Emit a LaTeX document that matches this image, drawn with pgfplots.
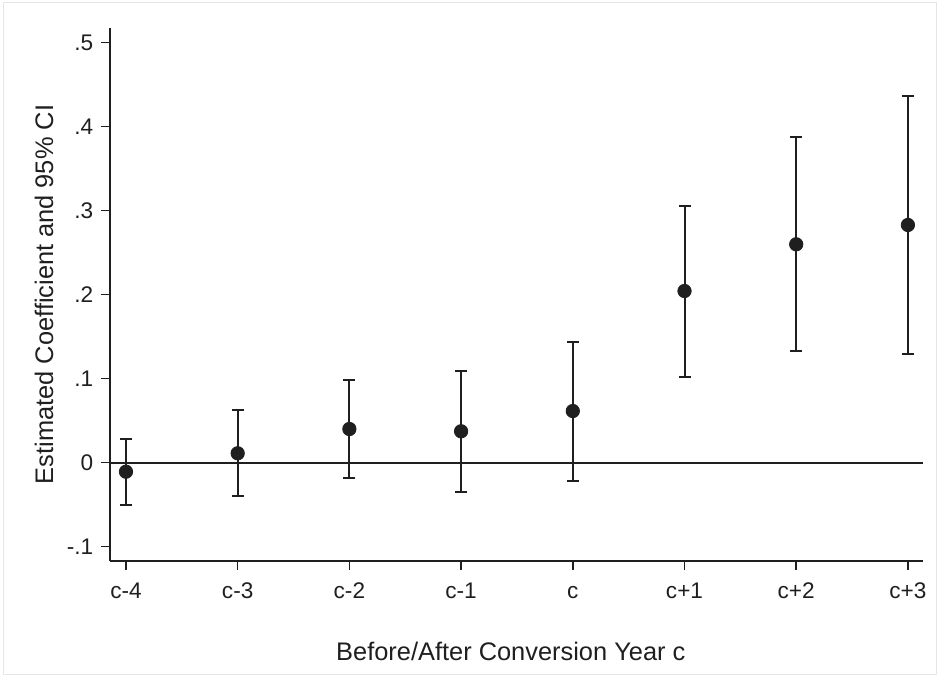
\documentclass[border=0pt]{standalone}
\usepackage{pgfplots}
\pgfplotsset{compat=1.18}
\usepackage{fontspec}
\setmainfont{Liberation Sans}
\definecolor{ink}{HTML}{1F1F1F}
\definecolor{frame}{HTML}{E6E6E6}

\begin{document}
\fontsize{11}{13}\selectfont
\begin{tikzpicture}
\useasboundingbox (-55pt,-58.5pt) rectangle (414.5pt,280.5pt);
\draw[frame, line width=0.5pt] (-53pt,-57pt) rectangle (413pt,279pt);
\begin{axis}[
    at={(0,0)}, anchor=south west,
    scale only axis,
    width=406.5pt, height=266.5pt,
    xmin=-0.143, xmax=7.135,
    ymin=-0.117, ymax=0.5175,
    axis x line*=bottom, axis y line*=left,
    axis line style={ink, line width=0.75pt, -},
    tick align=outside,
    major tick length=4.5pt,
    every tick/.style={ink, line width=0.75pt},
    xtick={0,1,2,3,4,5,6,7},
    xticklabels={c-4,c-3,c-2,c-1,c,c+1,c+2,c+3},
    ytick={-0.1,0,0.1,0.2,0.3,0.4,0.5},
    yticklabels={-.1,0,.1,.2,.3,.4,.5},
    ticklabel style={font=\fontsize{11.3}{13}\selectfont, text=ink},
    xticklabel style={text height=8pt, text depth=0pt, yshift=-2.5pt},
    xlabel={Before/After Conversion Year c},
    ylabel={Estimated Coefficient and 95\% CI},
    label style={font=\fontsize{12.7}{15}\selectfont, text=ink},
    xlabel style={at={(axis description cs:0.493,0)}, anchor=center, yshift=-45pt},
    ylabel style={at={(axis description cs:-0.0812,0.5)}, anchor=center},
    clip=false,
]
% zero reference line
\addplot[ink, line width=0.9pt, forget plot] coordinates {(-0.143,0) (7.135,0)};

% coefficients with 95% CI (upper = += , lower = -=)
\addplot[
    only marks, mark=*, mark size=3.35pt,
    mark options={fill=ink, draw=ink},
    error bars/.cd,
        y dir=both, y explicit,
        error mark options={rotate=90, ink, line width=1pt, mark size=3pt},
        error bar style={ink, line width=1pt},
] coordinates {
    (0,-0.0107) += (0,0.0389) -= (0,0.0393)
    (1, 0.0112) += (0,0.0512) -= (0,0.0508)
    (2, 0.0401) += (0,0.0587) -= (0,0.0587)
    (3, 0.0374) += (0,0.0721) -= (0,0.0727)
    (4, 0.0615) += (0,0.0818) -= (0,0.0829)
    (5, 0.2044) += (0,0.1012) -= (0,0.1020)
    (6, 0.2600) += (0,0.1274) -= (0,0.1270)
    (7, 0.2830) += (0,0.1535) -= (0,0.1530)
};
\end{axis}
\end{tikzpicture}
\end{document}
